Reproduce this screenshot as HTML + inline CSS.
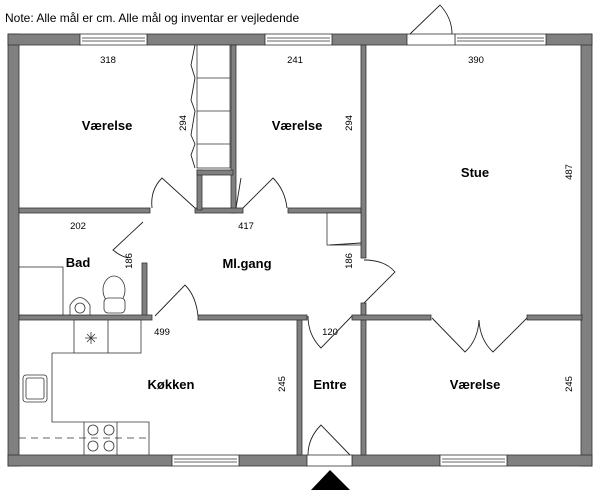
<!DOCTYPE html>
<html><head><style>
body{margin:0;background:#fff;}
svg{display:block;font-family:"Liberation Sans",sans-serif;}
.l{font-weight:bold;font-size:13px;text-anchor:middle;}
.n{font-size:9.5px;text-anchor:middle;}
</style></head><body>
<svg width="600" height="498" viewBox="0 0 600 498" xmlns="http://www.w3.org/2000/svg">
<text x="5" y="22" font-size="12">Note: Alle mål er cm. Alle mål og inventar er vejledende</text>
<g fill="#808080" stroke="#333" stroke-width="0.8">
<rect x="8" y="34" width="11" height="432"/>
<rect x="581" y="34" width="11" height="432"/>
<rect x="8" y="34" width="72" height="11"/>
<rect x="147" y="34" width="118" height="11"/>
<rect x="332" y="34" width="75" height="11"/>
<rect x="546" y="34" width="46" height="11"/>
<rect x="8" y="455" width="164" height="11"/>
<rect x="239" y="455" width="68" height="11"/>
<rect x="352" y="455" width="88" height="11"/>
<rect x="507" y="455" width="85" height="11"/>
<rect x="231" y="45" width="5" height="168"/>
<rect x="361" y="45" width="5" height="213"/>
<rect x="361" y="303" width="5" height="152"/>
<rect x="297" y="316" width="5" height="139"/>
<rect x="19" y="208" width="131" height="5"/>
<rect x="195" y="208" width="48" height="5"/>
<rect x="288" y="208" width="73" height="5"/>
<rect x="197" y="170" width="5" height="40"/>
<rect x="197" y="170" width="36" height="5"/>
<rect x="142" y="263" width="5" height="55"/>
<rect x="19" y="315" width="133" height="5"/>
<rect x="198" y="315" width="109" height="5"/>
<rect x="352" y="315" width="79" height="5"/>
<rect x="527" y="315" width="55" height="5"/>
</g>
<g fill="#fff" stroke="#333" stroke-width="0.8">
<rect x="80" y="34" width="67" height="11"/><line x1="82" y1="38" x2="145" y2="38"/><line x1="82" y1="41" x2="145" y2="41"/>
<rect x="265" y="34" width="67" height="11"/><line x1="267" y1="38" x2="330" y2="38"/><line x1="267" y1="41" x2="330" y2="41"/>
<rect x="455" y="34" width="91" height="11"/><line x1="457" y1="38" x2="544" y2="38"/><line x1="457" y1="41" x2="544" y2="41"/>
<rect x="172" y="455" width="67" height="11"/><line x1="174" y1="459" x2="237" y2="459"/><line x1="174" y1="462" x2="237" y2="462"/>
<rect x="440" y="455" width="67" height="11"/><line x1="442" y1="459" x2="505" y2="459"/><line x1="442" y1="462" x2="505" y2="462"/>
<rect x="407" y="34" width="48" height="11"/>
<rect x="307" y="455" width="45" height="11"/>
<rect x="197" y="45" width="33" height="123"/>
<line x1="197" y1="78" x2="230" y2="78"/><line x1="197" y1="111" x2="230" y2="111"/><line x1="197" y1="144" x2="230" y2="144"/>
<rect x="19" y="267" width="44" height="48"/>
<path d="M70,315 L70,305 Q80,290 90,305 L90,315Z"/>
<circle cx="80" cy="308" r="5"/>
<ellipse cx="114" cy="290" rx="11" ry="14"/>
<rect x="104" y="298" width="21" height="15" rx="4"/>
<rect x="74" y="320" width="67" height="33"/><line x1="108" y1="320" x2="108" y2="353"/>
<path d="M52,353 L74,353 M52,353 L52,422 L149,422 L149,455"/>
<line x1="84" y1="422" x2="84" y2="455"/><line x1="117" y1="422" x2="117" y2="455"/>
<rect x="23" y="375" width="24" height="27" rx="3"/><rect x="26" y="378" width="18" height="21" rx="2"/>
<circle cx="93" cy="430" r="5"/><circle cx="109" cy="430" r="5"/><circle cx="93" cy="446" r="5"/><circle cx="109" cy="446" r="5"/>
<rect x="327" y="213" width="34" height="32"/>
</g>
<line x1="19" y1="438" x2="149" y2="438" stroke="#333" stroke-width="0.8" stroke-dasharray="7,5"/>
<path d="M85,338 L97,338 M91,332 L91,344 M87,334 L95,342 M95,334 L87,342" stroke="#333" stroke-width="0.8"/>
<g fill="none" stroke="#222" stroke-width="0.9">
<path d="M195,208 L162,178 Q150,190 152,208"/>
<path d="M243,208 L273,178 Q285,190 287,208"/>
<path d="M143,222 L113,250 Q120,256 128,258"/>
<path d="M155,316 L185,285 Q196,296 198,316"/>
<path d="M364,303 L395,272 Q385,260 364,260"/>
<path d="M352,316 L321,348 Q308,335 308,316"/>
<path d="M432,318 L465,352 Q478,340 479,320 Q480,340 493,352 L527,318"/>
<path d="M350,455 L321,425 Q308,438 308,455"/>
<path d="M410,34 L440,5 Q452,18 452,34"/>
<path d="M236,208 L241,178"/>
<path d="M195,45 L191,65 L195,78 L191,100 L195,111 L191,135 L195,144 L191,155 L195,168"/>
<path d="M330,245 L361,243"/>
</g>
<polygon points="311,490 330,470 350,490" fill="#000"/>
<text class="l" x="107" y="130">Værelse</text>
<text class="l" x="297" y="130">Værelse</text>
<text class="l" x="475" y="177">Stue</text>
<text class="l" x="78" y="267">Bad</text>
<text class="l" x="247" y="268">Ml.gang</text>
<text class="l" x="171" y="389">Køkken</text>
<text class="l" x="330" y="389">Entre</text>
<text class="l" x="475" y="389">Værelse</text>
<text class="n" x="108" y="63">318</text>
<text class="n" x="295" y="63">241</text>
<text class="n" x="476" y="63">390</text>
<text class="n" x="78" y="229">202</text>
<text class="n" x="246" y="229">417</text>
<text class="n" x="162" y="335">499</text>
<text class="n" x="330" y="335">120</text>
<text class="n" transform="translate(186,123) rotate(-90)">294</text>
<text class="n" transform="translate(352,123) rotate(-90)">294</text>
<text class="n" transform="translate(572,172) rotate(-90)">487</text>
<text class="n" transform="translate(132,261) rotate(-90)">186</text>
<text class="n" transform="translate(352,261) rotate(-90)">186</text>
<text class="n" transform="translate(285,384) rotate(-90)">245</text>
<text class="n" transform="translate(572,384) rotate(-90)">245</text>
</svg>
</body></html>
